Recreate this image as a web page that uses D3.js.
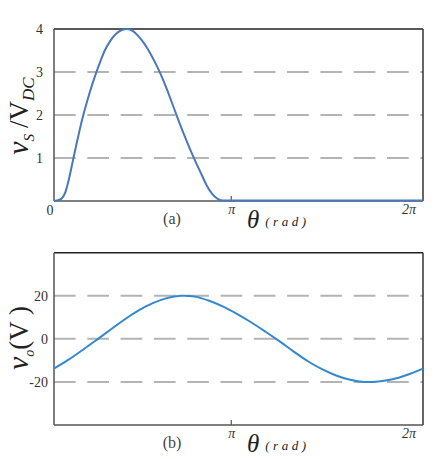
<!DOCTYPE html>
<html><head><meta charset="utf-8">
<script src="https://cdn.jsdelivr.net/npm/d3@7"></script>
<style>body{margin:0;background:#fff}svg{display:block}</style>
</head><body><svg id="c" width="443" height="459" font-family="Liberation Serif, Times New Roman, serif"></svg>
<script>
// Panel (a): v_S / V_DC vs theta (rad)
const thetaA = [0, 0.1, 0.15, 0.2, 0.25, 0.3, 0.35, 0.4, 0.5, 0.6, 0.7, 0.8, 0.9, 1.0, 1.1, 1.2, 1.3, 1.4, 1.5, 1.6, 1.7, 1.8, 1.9, 2.0, 2.1, 2.2, 2.3, 2.4, 2.5, 2.6, 2.7, 2.8, 2.9, 3.0, 3.5, 4.5, 5.5, 6.54];
const vsA    = [0, 0.03, 0.08, 0.2, 0.43, 0.72, 1.03, 1.33, 1.9, 2.38, 2.8, 3.17, 3.5, 3.73, 3.89, 3.975, 4.0, 3.95, 3.83, 3.66, 3.45, 3.2, 2.92, 2.6, 2.25, 1.9, 1.56, 1.24, 0.94, 0.66, 0.38, 0.17, 0.05, 0.01, 0.01, 0.01, 0.01, 0.01];
// Panel (b): v_o (V) vs theta (rad)
const thetaB = [0, 0.25, 0.5, 0.75, 1.0, 1.25, 1.5, 1.75, 2.0, 2.25, 2.5, 2.75, 3.0, 3.25, 3.5, 3.75, 4.0, 4.25, 4.5, 4.75, 5.0, 5.25, 5.5, 5.75, 6.0, 6.25, 6.54];
const voB    = [-13.8, -9.8, -5.3, -0.6, 4.2, 9.0, 13.2, 16.6, 18.9, 20.0, 19.6, 17.7, 15.0, 11.5, 7.6, 3.3, -1.2, -5.9, -10.4, -14.1, -17.0, -19.0, -20.0, -19.8, -18.8, -16.8, -13.8];
const yTicksA = [1, 2, 3, 4];
const gridA = [1, 2, 3];
const yTicksB = [20, 0, -20];
const gridB = [20, 0, -20];
const xTickVals = [Math.PI, 2 * Math.PI];
const xTickLabels = ["π", "2π"];

const svg = d3.select("#c");
const x = d3.scaleLinear().domain([0, 6.54]).range([54, 423]);
const yA = d3.scaleLinear().domain([0, 4]).range([201, 29]);
const yB = d3.scaleLinear().domain([-40, 40]).range([425, 252.7]);
const SERIF = "Liberation Serif, Times New Roman, serif";

function panel(y, grid, ticks, tickRight, thetas, vals, color, tag, curve) {
  svg.append("g").selectAll("line").data(grid).join("line")
    .attr("x1", 54).attr("x2", 423)
    .attr("y1", d => y(d)).attr("y2", d => y(d))
    .attr("stroke", "#b4b4b4").attr("stroke-width", 2)
    .attr("stroke-dasharray", "21.7,11.6");
  const ay = svg.append("g").attr("transform", `translate(${tickRight},0)`)
    .call(d3.axisLeft(y).tickValues(ticks).tickSize(0).tickPadding(0).tickFormat(d => String(d)));
  ay.attr("font-family", SERIF);
  ay.select(".domain").remove();
  ay.selectAll("text").attr("font-size", 14).attr("fill", "#333");
  const [y0, y1] = y.range();
  svg.append("line").attr("x1", 54).attr("x2", 423).attr("y1", y1).attr("y2", y1).attr("stroke", "#222").attr("stroke-width", 1.5);
  svg.append("line").attr("x1", 423).attr("x2", 423).attr("y1", y1).attr("y2", y0).attr("stroke", "#333").attr("stroke-width", 1.5);
  svg.append("line").attr("x1", 54).attr("x2", 54).attr("y1", y1).attr("y2", y0).attr("stroke", "#555").attr("stroke-width", 1.5);
  svg.append("line").attr("x1", 54).attr("x2", 423).attr("y1", y0).attr("y2", y0).attr("stroke", "#555").attr("stroke-width", 1.5);
  svg.append("line").attr("x1", x(Math.PI)).attr("x2", x(Math.PI)).attr("y1", y0 - 5).attr("y2", y0).attr("stroke", "#555").attr("stroke-width", 1.2);
  const ax = svg.append("g").attr("transform", `translate(0,${y0})`)
    .call(d3.axisBottom(x).tickValues(xTickVals).tickSize(0).tickPadding(3)
      .tickFormat((d, i) => xTickLabels[i]));
  ax.attr("font-family", SERIF);
  ax.select(".domain").remove();
  ax.selectAll("text").attr("font-size", 14).attr("fill", "#333").attr("font-style", "italic");
  const pts = thetas.map((t, i) => [t, vals[i]]);
  svg.append("path").datum(pts)
    .attr("d", d3.line().x(d => x(d[0])).y(d => y(d[1])).curve(curve))
    .attr("fill", "none").attr("stroke", color).attr("stroke-width", 2);
  svg.append("text").attr("x", 172).attr("y", y0 + 23).attr("text-anchor", "middle")
    .attr("font-size", 16).attr("fill", "#444").text(tag);
  const tl = svg.append("text").attr("x", 247).attr("y", y0 + 27).attr("fill", "#222");
  tl.append("tspan").attr("font-size", 25).attr("font-style", "italic").text("θ");
  tl.append("tspan").attr("dx", 6).attr("font-size", 13).attr("font-style", "italic")
    .attr("letter-spacing", 3.5).attr("dy", -2).text("(rad)");
}

panel(yA, gridA, yTicksA, 43, thetaA, vsA, "#4a78bd", "(a)", d3.curveMonotoneX);
panel(yB, gridB, yTicksB, 48, thetaB, voB, "#3388cf", "(b)", d3.curveCatmullRom);

svg.append("text").attr("x", 50).attr("y", 215).attr("text-anchor", "middle")
  .attr("font-size", 14).attr("fill", "#333").text("0");

const la = svg.append("text").attr("transform", "translate(28,116) rotate(-90)")
  .attr("text-anchor", "middle").attr("fill", "#222").attr("font-size", 27);
la.append("tspan").attr("font-style", "italic").attr("font-size", 30).text("v");
la.append("tspan").attr("font-style", "italic").attr("font-size", 15).attr("dy", 6).text("S");
la.append("tspan").attr("dy", -6).attr("dx", 6).text("/V");
la.append("tspan").attr("font-style", "italic").attr("font-size", 17).attr("dy", 6).text("DC");

const lb = svg.append("text").attr("transform", "translate(28,338) rotate(-90)")
  .attr("text-anchor", "middle").attr("fill", "#222").attr("font-size", 27);
lb.append("tspan").attr("font-style", "italic").attr("font-size", 30).text("v");
lb.append("tspan").attr("font-style", "italic").attr("font-size", 14).attr("dy", 6).text("o");
lb.append("tspan").attr("dy", -6).text("(V )");
</script></body></html>
